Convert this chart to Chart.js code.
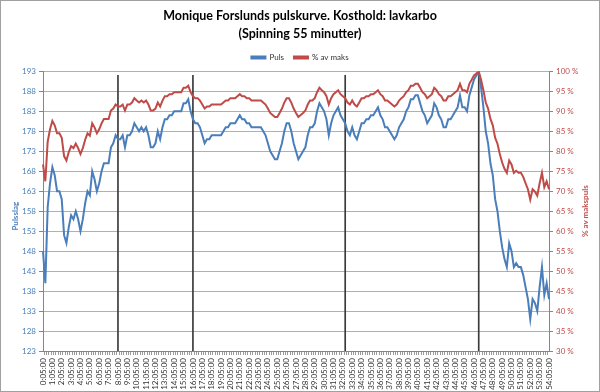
<!DOCTYPE html>
<html>
<head>
<meta charset="utf-8">
<script src="https://cdn.jsdelivr.net/npm/chart.js@4.4.0/dist/chart.umd.min.js"></script>
<style>
  html, body { margin: 0; padding: 0; background: #fff; }
  #wrap { width: 600px; height: 392px; }
</style>
</head>
<body>
<div id="wrap"><canvas id="chart" width="600" height="392"></canvas></div>
<script>
// Pulse samples, one every 15 seconds (4 per minute), 0:05:00 .. 54:05:00
const puls = [
  148, 140, 159, 165, 169, 167, 163, 163, 161, 152,
  150, 154, 157, 156, 158, 156, 153, 156, 160, 163,
  162, 168, 166, 163, 165, 168, 170, 170, 170, 174,
  175, 177, 176, 176, 177, 174, 177, 177, 178, 180,
  179, 178, 179, 178, 179, 177, 174, 174, 175, 178,
  176, 179, 181, 181, 182, 182, 183, 183, 183, 183,
  185, 185, 186, 183, 181, 180, 180, 179, 177, 175,
  176, 176, 177, 177, 177, 177, 177, 178, 179, 179,
  180, 180, 180, 181, 182, 181, 181, 180, 180, 179,
  179, 179, 179, 179, 178, 177, 175, 173, 172, 171,
  171, 173, 175, 178, 180, 180, 178, 175, 173, 171,
  172, 173, 174, 177, 179, 179, 180, 183, 185, 184,
  183, 181, 177, 180, 182, 183, 184, 182, 181, 180,
  178, 177, 179, 177, 176, 178, 180, 180, 181, 181,
  182, 182, 183, 184, 182, 181, 179, 179, 178, 177,
  176, 177, 179, 180, 181, 183, 184, 186, 186, 187,
  187, 185, 183, 182, 180, 181, 182, 185, 184, 182,
  181, 179, 179, 181, 181, 182, 183, 184, 187, 184,
  184, 183, 187, 189, 191, 192, 193, 189, 184, 178,
  175, 170, 167, 161, 158, 153, 149, 146, 144, 150,
  148, 144, 145, 144, 144, 142, 139, 136, 131, 136,
  135, 133, 139, 144, 137, 140, 136
];

// Same samples as % of max pulse (secondary axis)
const avMaks = [
  76.7, 72.5, 82.4, 85.5, 87.6, 86.5, 84.5, 84.5, 83.4, 78.8,
  77.7, 79.8, 81.3, 80.8, 81.9, 80.8, 79.3, 80.8, 82.9, 84.5,
  83.9, 87.0, 86.0, 84.5, 85.5, 87.0, 88.1, 88.1, 88.1, 90.2,
  90.7, 91.7, 91.2, 91.2, 91.7, 90.2, 91.7, 91.7, 92.2, 93.3,
  92.7, 92.2, 92.7, 92.2, 92.7, 91.7, 90.2, 90.2, 90.7, 92.2,
  91.2, 92.7, 93.8, 93.8, 94.3, 94.3, 94.8, 94.8, 94.8, 94.8,
  95.9, 95.9, 96.4, 94.8, 93.8, 93.3, 93.3, 92.7, 91.7, 90.7,
  91.2, 91.2, 91.7, 91.7, 91.7, 91.7, 91.7, 92.2, 92.7, 92.7,
  93.3, 93.3, 93.3, 93.8, 94.3, 93.8, 93.8, 93.3, 93.3, 92.7,
  92.7, 92.7, 92.7, 92.7, 92.2, 91.7, 90.7, 89.6, 89.1, 88.6,
  88.6, 89.6, 90.7, 92.2, 93.3, 93.3, 92.2, 90.7, 89.6, 88.6,
  89.1, 89.6, 90.2, 91.7, 92.7, 92.7, 93.3, 94.8, 95.9, 95.3,
  94.8, 93.8, 91.7, 93.3, 94.3, 94.8, 95.3, 94.3, 93.8, 93.3,
  92.2, 91.7, 92.7, 91.7, 91.2, 92.2, 93.3, 93.3, 93.8, 93.8,
  94.3, 94.3, 94.8, 95.3, 94.3, 93.8, 92.7, 92.7, 92.2, 91.7,
  91.2, 91.7, 92.7, 93.3, 93.8, 94.8, 95.3, 96.4, 96.4, 96.9,
  96.9, 95.9, 94.8, 94.3, 93.3, 93.8, 94.3, 95.9, 95.3, 94.3,
  93.8, 92.7, 92.7, 93.8, 93.8, 94.3, 94.8, 95.3, 96.9, 95.3,
  95.3, 94.8, 96.9, 97.9, 99.0, 99.5, 100, 97.9, 95.3, 92.2,
  90.7, 88.1, 86.5, 83.4, 81.9, 79.3, 77.2, 75.6, 74.6, 77.7,
  76.7, 74.6, 75.1, 74.6, 74.6, 73.6, 72.0, 70.5, 67.9, 70.5,
  69.9, 68.9, 72.0, 74.6, 71.0, 72.5, 70.5
];

// Black vertical marker lines: sample index and how high they reach (beats)
const markerIndex = [32, 64, 129, 186];
const markerTop = [192, 192, 192, 193];

const quarterSecs = ['00', '15', '30', '45'];

const blue = '#4a7ebb';
const red = '#be4b48';
const fontFamily = 'Lato, "Liberation Sans", sans-serif';

// time labels, one per sample
const labels = puls.map((_, i) => Math.floor(i / 4) + ':05:' + quarterSecs[i % 4]);
const markerData = labels.map((_, i) => {
  const j = markerIndex.indexOf(i);
  return j >= 0 ? markerTop[j] : null;
});

// white background + thin grey frame
const frame = {
  id: 'frame',
  beforeDraw(chart) {
    const ctx = chart.ctx;
    ctx.save();
    ctx.fillStyle = '#fff';
    ctx.fillRect(0, 0, chart.width, chart.height);
    ctx.strokeStyle = '#a0a0a0';
    ctx.lineWidth = 1;
    ctx.strokeRect(0.5, 0.5, chart.width - 1, chart.height - 1);
    ctx.restore();
  }
};

// rotated axis titles (both read bottom to top, like Excel)
const axisTitles = {
  id: 'axisTitles',
  afterDraw(chart) {
    const ctx = chart.ctx;
    const area = chart.chartArea;
    const midY = (area.top + area.bottom) / 2;
    const draw = (text, x, y, color) => {
      ctx.save();
      ctx.translate(x, y);
      ctx.rotate(-Math.PI / 2);
      ctx.font = 'bold 8px ' + fontFamily;
      ctx.fillStyle = color;
      ctx.textAlign = 'center';
      ctx.textBaseline = 'middle';
      ctx.fillText(text, 0, 0);
      ctx.restore();
    };
    draw('Pulsslag', 15, midY + 5, blue);
    draw('% av makspuls', 585, midY, red);
  }
};

new Chart(document.getElementById('chart'), {
  data: {
    labels,
    datasets: [
      {
        type: 'line',
        label: 'Puls',
        data: puls,
        yAxisID: 'y',
        borderColor: blue,
        backgroundColor: blue,
        borderWidth: 2,
        pointRadius: 0,
        tension: 0,
        order: 1
      },
      {
        type: 'line',
        label: '% av maks',
        data: avMaks,
        yAxisID: 'y1',
        borderColor: red,
        backgroundColor: red,
        borderWidth: 2,
        pointRadius: 0,
        tension: 0,
        order: 0
      },
      {
        type: 'bar',
        label: 'markers',
        data: markerData,
        yAxisID: 'y',
        backgroundColor: '#3a3a3a',
        barThickness: 1,
        order: 2
      }
    ]
  },
  options: {
    responsive: false,
    animation: false,
    devicePixelRatio: 1,
    layout: { padding: { top: 2, left: 0, right: 0, bottom: 0 } },
    plugins: {
      title: {
        display: true,
        text: ['Monique Forslunds pulskurve. Kosthold: lavkarbo', '(Spinning 55 minutter)'],
        color: '#000',
        font: { family: fontFamily, size: 12.5, weight: 'bold', lineHeight: 1.456 },
        padding: { top: 5, bottom: 0 }
      },
      legend: {
        display: true,
        labels: {
          filter: item => item.text !== 'markers',
          sort: (a, b) => a.datasetIndex - b.datasetIndex,
          boxWidth: 14,
          boxHeight: 2,
          padding: 10,
          color: '#333',
          font: { family: fontFamily, size: 8 }
        }
      },
      tooltip: { enabled: false }
    },
    scales: {
      x: {
        offset: false,
        grid: {
          display: true,
          drawOnChartArea: false,
          drawTicks: true,
          tickLength: 4,
          tickColor: '#9a9a9a'
        },
        border: { color: '#868686' },
        ticks: {
          autoSkip: false,
          minRotation: 90,
          maxRotation: 90,
          padding: 3,
          color: '#333',
          font: { family: fontFamily, size: 8 },
          callback: function (value, index) {
            return index % 4 === 0 ? this.getLabelForValue(value) : '';
          }
        },
        afterFit(scale) { scale.height = 41; }
      },
      y: {
        position: 'left',
        min: 123,
        max: 193,
        grid: {
          color: '#b0b0b0',
          tickLength: 4,
          tickColor: '#868686'
        },
        border: { color: '#868686' },
        ticks: {
          stepSize: 5,
          padding: 3,
          color: blue,
          font: { family: fontFamily, size: 8 }
        },
        afterFit(scale) { scale.width = 43; }
      },
      y1: {
        position: 'right',
        min: 30,
        max: 100,
        grid: {
          drawOnChartArea: false,
          tickLength: 4,
          tickColor: '#868686'
        },
        border: { color: '#868686' },
        ticks: {
          stepSize: 5,
          padding: 3,
          color: red,
          font: { family: fontFamily, size: 8 },
          callback: v => v + ' %'
        },
        afterFit(scale) { scale.width = 51; }
      }
    }
  },
  plugins: [frame, axisTitles]
});
</script>
</body>
</html>
